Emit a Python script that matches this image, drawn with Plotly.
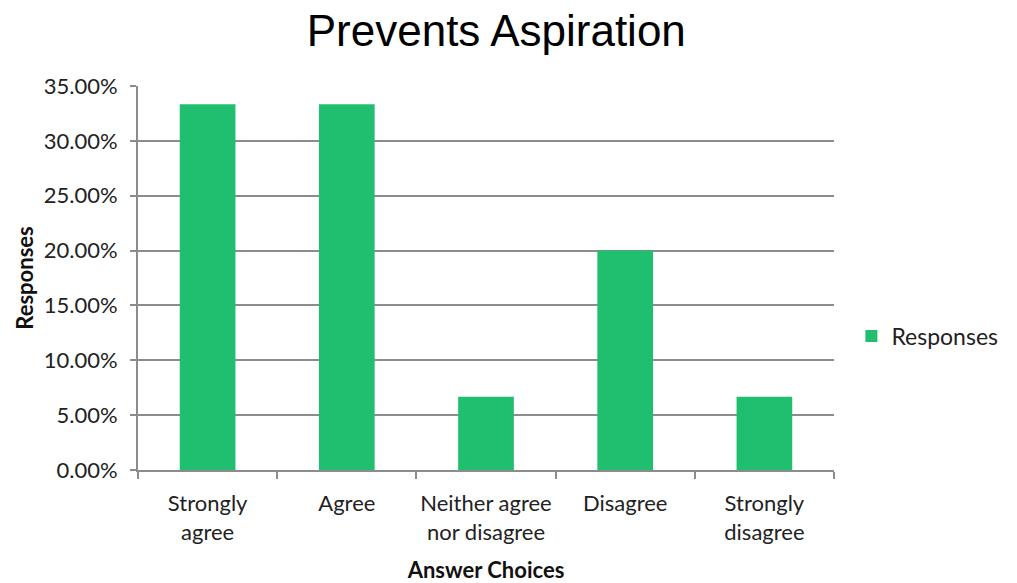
import plotly.graph_objects as go

categories = ["Strongly<br>agree", "Agree", "Neither agree<br>nor disagree", "Disagree", "Strongly<br>disagree"]
values = [0.3333, 0.3333, 0.0667, 0.2, 0.0667]
series_name = "Responses"

GREEN = "#20BE6F"
GRID = "#8C8C8C"
FONT = "Lato, 'Open Sans', sans-serif"

fig = go.Figure()
fig.add_trace(go.Bar(
    x=categories, y=values, name=series_name,
    marker=dict(color=GREEN, line=dict(width=0)),
    width=0.4, showlegend=True,
))

fig.update_layout(
    width=1017, height=583,
    margin=dict(l=138, r=183, t=86, b=113, autoexpand=False),
    paper_bgcolor="white", plot_bgcolor="white",
    font=dict(family=FONT, size=22, color="#222222"),
    title=dict(text="Prevents Aspiration", x=0.488, xanchor="center", y=1 - 31 / 583, yanchor="middle",
               font=dict(family="'Liberation Sans', Arial, sans-serif", size=44, color="black")),
    showlegend=True,
    legend=dict(x=1.025, xanchor="left", y=0.349, yanchor="middle", font=dict(size=23, color="#222222"),
                bgcolor="rgba(0,0,0,0)", itemwidth=30),
    bargap=0.6,
)

fig.update_xaxes(
    showline=True, linecolor=GRID, linewidth=2,
    ticks="outside", tickson="boundaries", ticklen=7, tickcolor=GRID, tickwidth=2,
    showgrid=False, tickangle=0,
    ticklabelstandoff=13,
    tickfont=dict(size=22, color="#222222"),
    title=dict(text="<b>Answer Choices</b>", font=dict(size=22, color="#111111"), standoff=20),
)
fig.update_yaxes(
    range=[0, 0.35], dtick=0.05, tick0=0, tickformat=".2%",
    showline=True, linecolor=GRID, linewidth=2,
    ticks="outside", ticklen=6, tickcolor=GRID, tickwidth=2,
    showgrid=True, gridcolor=GRID, gridwidth=1.5,
    zeroline=False,
    ticklabelstandoff=8,
    tickfont=dict(size=22, color="#222222"),
    title=dict(text="<b>Responses</b>", font=dict(size=22, color="#111111"), standoff=4),
)

fig.write_html("out.html")
